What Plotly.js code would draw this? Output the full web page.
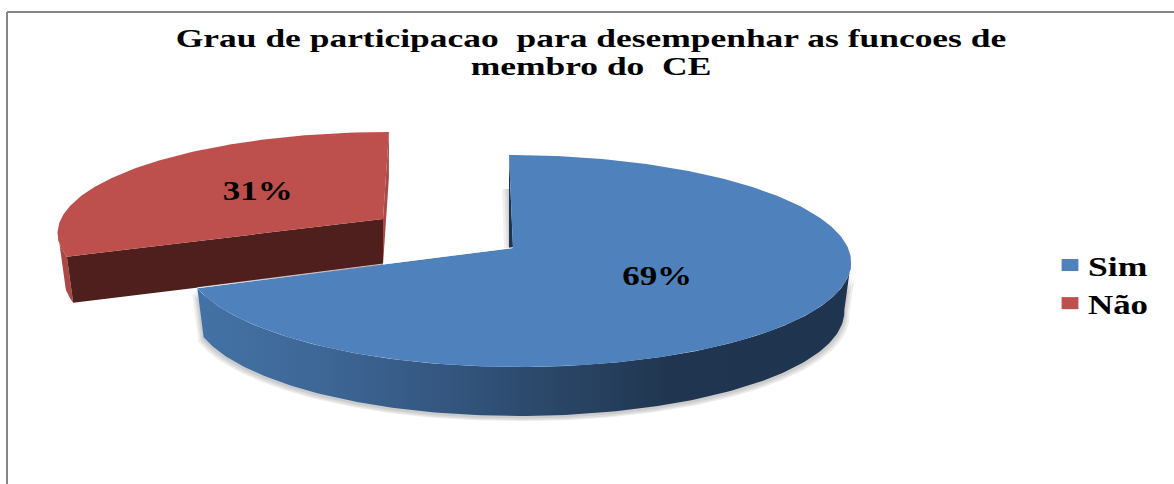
<!DOCTYPE html>
<html><head><meta charset="utf-8">
<script src="https://cdn.plot.ly/plotly-3.0.1.min.js"></script>
<style>html,body{margin:0;padding:0;background:#fff}#c{width:1174px;height:484px}</style></head>
<body><div id="c"></div>
<script>
const categories = ["Sim", "Não"];
const shares = [69, 31];
const titleText = "Grau de participacao  para desempenhar as funcoes de<br>membro do  CE";
const colors = ["#4f81bd", "#bd4f4c"];
const serif = "Liberation Serif";

// projected-disc geometry for each slice (page units)
const simDisc = {x0:513, y0:248, R:335, Rl:326, S:104.4, s:-4.5, depth:49};
const naoDisc = {x0:383, y0:219, R:322, Rl:322, S:97.7, s:6.7, depth:46};
const K = 0.1226, wallScale = 0.98;
const labelRadius = [0.48, 0.51];

const total = shares.reduce((a,b)=>a+b,0);
const simEnd = shares[0]/total*360;

function pt(d, deg, f){
  f = f===undefined?1:f;
  const t = deg*Math.PI/180, u=Math.sin(t), v=Math.cos(t), w=1+K*v;
  const R = u>=0?d.R:d.Rl;
  return [d.x0+f*(R*u+d.s*v)/w, d.y0-f*d.S*v/w];
}
function low(d,p){ return [d.x0+(p[0]-d.x0)*wallScale, p[1]+d.depth]; }
function arc(d,a,b){ const o=[]; const n=Math.ceil(Math.abs(b-a)); for(let i=0;i<=n;i++) o.push(pt(d,a+(b-a)*i/n)); return o; }
function xs(p){return p.map(q=>q[0]);} function ys(p){return p.map(q=>q[1]);}
function poly(p,color,extra){
  return Object.assign({type:"scatter",mode:"lines",x:xs(p),y:ys(p),fill:"toself",fillcolor:color,
    line:{width:0,color:color},showlegend:false,hoverinfo:"skip"},extra||{});
}
const apexS=[simDisc.x0,simDisc.y0], apexN=[naoDisc.x0,naoDisc.y0];
const traces=[];

// soft shadow below the blue wall and beside its cut
const simArcWall = arc(simDisc,97,simEnd);
const simWall = simArcWall.concat(simArcWall.map(p=>low(simDisc,p)).reverse());
[[5,5],[3,4],[1.5,2.5]].forEach(o=>{
  traces.push(poly(simWall.map(p=>[p[0]+(p[0]>513?o[0]:-o[0]),p[1]+o[1]]),"rgba(0,0,0,0.07)"));
});
const topS=pt(simDisc,0);
[9,6.5,4.5].forEach(o=>{
  traces.push(poly([[topS[0]-o+2,topS[1]+34],[apexS[0]-o,apexS[1]],[apexS[0],apexS[1]],[topS[0],topS[1]+34]],"rgba(0,0,0,0.06)"));
});

// Não slice
const naoArc = arc(naoDisc,simEnd,360);
const naoOuter = arc(naoDisc,simEnd,263);
traces.push(poly(naoOuter.concat(naoOuter.map(p=>low(naoDisc,p)).reverse()),"#a94845"));
const topN=pt(naoDisc,360), endN=pt(naoDisc,simEnd);
traces.push(poly([topN,apexN,low(naoDisc,apexN),low(naoDisc,topN)],"#a94845"));
traces.push(poly([endN,apexN,low(naoDisc,apexN),low(naoDisc,endN)],"#4e1f1c"));
traces.push(poly(naoArc.concat([apexN]),colors[1]));

// Sim slice
traces.push(poly(simWall,"#2c4a6e",{fillgradient:{type:"horizontal",colorscale:[
  [0,"#4472a6"],[0.2,"#3d6695"],[0.38,"#345680"],[0.55,"#2a4667"],[0.72,"#203650"],[1,"#1f344f"]]}}));
traces.push(poly([topS,[apexS[0]-4,apexS[1]],apexS],"#1f344f"));
const endS=pt(simDisc,simEnd);
traces.push(poly([apexS].concat(arc(simDisc,0,simEnd)),colors[0]));
traces.push({type:"scatter",mode:"lines",x:[endS[0],apexS[0]],y:[endS[1]-0.5,apexS[1]-0.5],
  line:{color:"rgba(255,255,255,0.75)",width:1},showlegend:false,hoverinfo:"skip"});

// data labels, at mid-angle of each slice
const mids=[simEnd/2,(simEnd+360)/2], discs=[simDisc,naoDisc];
const lp=mids.map((m,i)=>pt(discs[i],m,labelRadius[i]));
traces.push({type:"scatter",mode:"text",x:xs(lp),y:ys(lp),text:shares.map(v=>v+"%"),
  textposition:"middle center",textfont:{family:serif,size:27,color:"#000",weight:700},showlegend:false,hoverinfo:"skip"});

// legend entries
categories.forEach((c,i)=>traces.push({type:"scatter",mode:"markers",x:[null],y:[null],name:c,
  marker:{symbol:"square",size:14,color:colors[i]},hoverinfo:"skip"}));

const layout={
  width:1174,height:484,margin:{l:0,r:0,t:0,b:0},paper_bgcolor:"#fff",plot_bgcolor:"#fff",
  hovermode:false,
  title:{text:titleText,x:591/1174,xanchor:"center",y:1-28/484,yanchor:"top",
    font:{family:serif,size:26,color:"#000",weight:700}},
  xaxis:{range:[0,1174],visible:false,fixedrange:true},
  yaxis:{range:[484,0],visible:false,fixedrange:true},
  legend:{x:1050/1174,xanchor:"left",y:1-241/484,yanchor:"top",bgcolor:"rgba(0,0,0,0)",
    tracegroupgap:0,font:{family:serif,size:27,color:"#000",weight:700},itemwidth:30},
  shapes:[
    {type:"line",x0:7,x1:7,y0:12,y1:484,line:{color:"#868686",width:2}},
    {type:"line",x0:7,x1:1174,y0:12,y1:12,line:{color:"#868686",width:2}}
  ]
};
// the reference's text is horizontally stretched: widen the real text elements to its widths
function widen(el, targetW, left, dx){
  const b=el.getBBox(), sx=targetW/b.width, cx=left?b.x:b.x+b.width/2;
  const old=el.getAttribute("transform")||"";
  el.setAttribute("transform",`translate(${cx*(1-sx)+(dx||0)},0) scale(${sx},1) ${old}`);
}
Plotly.newPlot("c",traces,layout,{displayModeBar:false,staticPlot:true}).then(()=>{
  const t=document.querySelector(".gtitle");
  const lines=t.querySelectorAll("tspan.line");
  if(lines.length===2){
    lines[0].setAttribute("dy","0"); lines[1].setAttribute("dy","0");
    lines[0].setAttribute("y",47); lines[1].setAttribute("y",75);
  }
  const lw=t.getBBox().width;
  const sx=831/lw, cx=591;
  t.setAttribute("transform",`translate(${cx*(1-sx)},0) scale(${sx},1)`);
  document.querySelectorAll(".textpoint text").forEach(el=>widen(el,70));
  document.querySelectorAll(".legendtext").forEach(el=>widen(el,60,true,-2));
  document.querySelectorAll(".legend .scrollbox").forEach(el=>el.removeAttribute("clip-path"));
  document.querySelectorAll(".legendpoints path").forEach(el=>{
    el.setAttribute("transform",(el.getAttribute("transform")||"")+" scale(1.2,0.86)");
  });
});
</script></body></html>
